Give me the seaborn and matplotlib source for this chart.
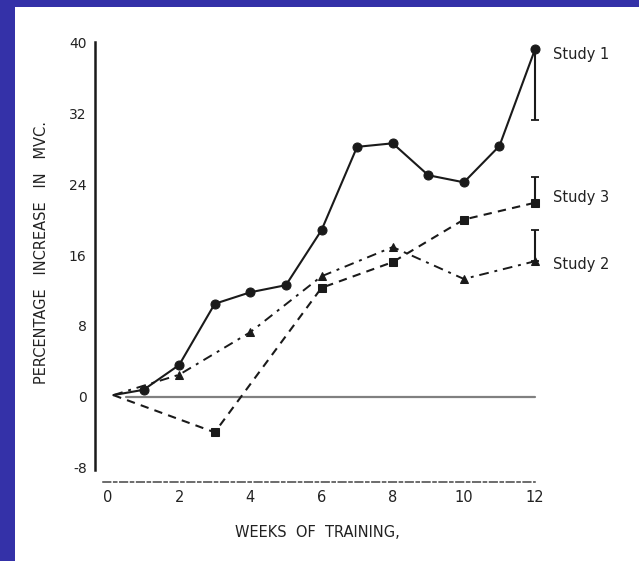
import matplotlib
matplotlib.use("Agg")
import matplotlib.pyplot as plt
from matplotlib.patches import Rectangle
import seaborn as sns
import pandas as pd

# ---- data ----
weeks_s1 = [0.15, 1, 2, 3, 4, 5, 6, 7, 8, 9, 10, 11, 12]
vals_s1 = [0.2, 0.8, 3.6, 10.5, 11.8, 12.6, 18.8, 28.2, 28.6, 25.0, 24.2, 28.3, 39.2]

weeks_s2 = [0.15, 2, 4, 6, 8, 10, 12]
vals_s2 = [0.2, 2.5, 7.3, 13.6, 16.9, 13.3, 15.3]

weeks_s3 = [0.15, 3, 6, 8, 10, 12]
vals_s3 = [0.2, -4.0, 12.3, 15.2, 20.0, 21.9]

err_low_s1 = 8.0   # Study 1 bar goes down to ~31
err_up_s3 = 2.9    # Study 3 bar goes up to ~24.8
err_up_s2 = 3.5    # Study 2 bar goes up to ~18.8

series_names = ["Study 1", "Study 3", "Study 2"]
label_y = [38.6, 22.5, 14.9]

x_ticks = [0, 2, 4, 6, 8, 10, 12]
y_ticks = [-8, 0, 8, 16, 24, 32, 40]

# ---- figure ----
sns.set_style("white")
plt.rcParams["font.family"] = ["Liberation Sans Narrow", "DejaVu Sans Condensed",
                               "DejaVu Sans"]
W, H = 639, 561
fig = plt.figure(figsize=(W / 100, H / 100), dpi=100)
fig.patch.set_facecolor("#3431a8")
fig.add_artist(Rectangle((15 / W, 0), 1 - 15 / W, 1 - 7 / H,
                         transform=fig.transFigure, facecolor="white",
                         edgecolor="none", zorder=0))

ax = fig.add_axes([95 / W, 1 - 482 / H, (540 - 95) / W, (482 - 37.8) / H])
ax.set_facecolor("none")
ax.set_xlim(-0.365, 12.14)
ax.set_ylim(-9.6, 40.5)

ink = "#1a1a1a"

# zero reference line
sns.lineplot(x=[0.5, 12], y=[0, 0], ax=ax, color="#808080", lw=1.6)

df1 = pd.DataFrame({"w": weeks_s1, "v": vals_s1})
df2 = pd.DataFrame({"w": weeks_s2, "v": vals_s2})
df3 = pd.DataFrame({"w": weeks_s3, "v": vals_s3})

sns.lineplot(data=df1, x="w", y="v", ax=ax, color=ink, lw=1.5,
             marker="o", markersize=6.5, markeredgecolor=ink,
             markevery=list(range(1, len(weeks_s1))))
sns.lineplot(data=df3, x="w", y="v", ax=ax, color=ink, lw=1.5,
             linestyle=(0, (4, 3)),
             marker="s", markersize=6, markeredgecolor=ink,
             markevery=list(range(1, len(weeks_s3))))
sns.lineplot(data=df2, x="w", y="v", ax=ax, color=ink, lw=1.4,
             linestyle=(0, (5, 3, 1.5, 3)),
             marker="^", markersize=5.5, markeredgecolor=ink,
             markevery=list(range(1, len(weeks_s2))))

# error bars at week 12
ax.errorbar([weeks_s1[-1]], [vals_s1[-1]], yerr=[[err_low_s1], [0]],
            fmt="none", ecolor=ink, elinewidth=1.5, capsize=3, capthick=1.3)
ax.errorbar([weeks_s3[-1]], [vals_s3[-1]], yerr=[[0], [err_up_s3]],
            fmt="none", ecolor=ink, elinewidth=1.5, capsize=3, capthick=1.3)
ax.errorbar([weeks_s2[-1]], [vals_s2[-1]], yerr=[[0], [err_up_s2]],
            fmt="none", ecolor=ink, elinewidth=1.5, capsize=3, capthick=1.3)

for name, ly in zip(series_names, label_y):
    ax.text(12.5, ly, name, fontsize=10.5, color="#222222", va="center", ha="left")

# axes styling
for s in ["top", "right"]:
    ax.spines[s].set_visible(False)
ax.spines["left"].set_bounds(-8.3, 40)
ax.spines["left"].set_linewidth(1.8)
ax.spines["left"].set_color(ink)
ax.spines["bottom"].set_bounds(-0.15, 12)
ax.spines["bottom"].set_linewidth(1.1)
ax.spines["bottom"].set_color("#444444")
ax.spines["bottom"].set_linestyle((0, (5, 2, 2, 2)))

ax.set_xticks(x_ticks)
ax.set_xticklabels([str(t) for t in x_ticks])
ax.set_yticks(y_ticks)
ax.set_yticklabels([str(t) for t in y_ticks])
ax.tick_params(axis="y", direction="in", length=4, width=1.2, pad=6,
               labelsize=10, labelcolor="#222222", color=ink)
ax.tick_params(axis="x", direction="in", length=3, width=1, pad=6,
               labelsize=10.5, labelcolor="#222222", color=ink)

ax.set_xlabel("WEEKS  OF  TRAINING,", fontsize=10.5, color="#222222", labelpad=14)
ax.set_ylabel("PERCENTAGE   INCREASE   IN   MVC.", fontsize=10.5, color="#222222",
              labelpad=14)
ax.yaxis.set_label_coords(-0.103, (253 - 482) / (37.8 - 482))

fig.savefig("out.png", dpi=100, facecolor=fig.get_facecolor())
